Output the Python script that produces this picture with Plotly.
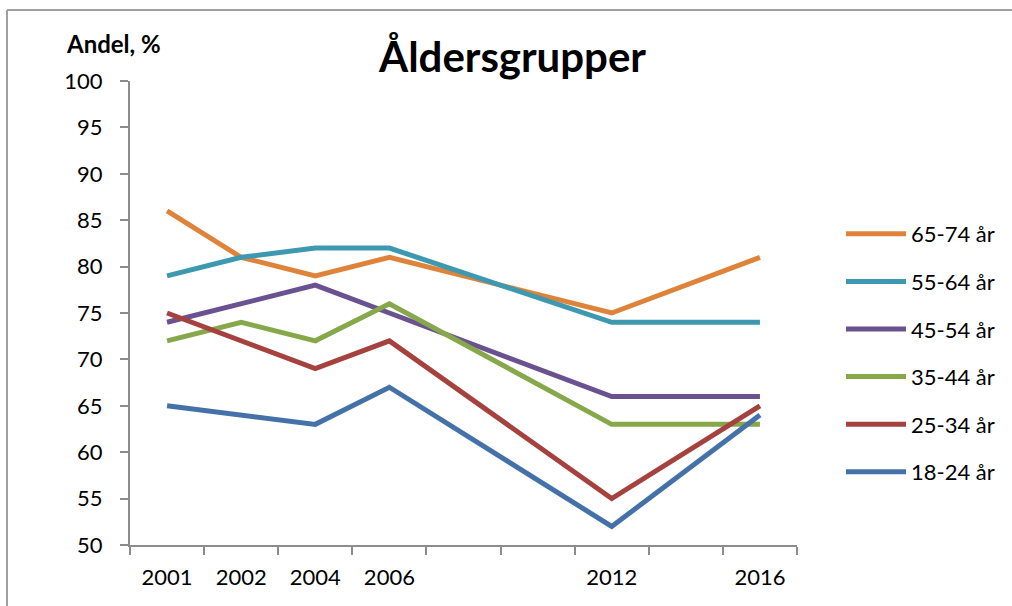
import plotly.graph_objects as go

# Category slots on the x axis (blank slots are gaps between surveyed years)
slot_labels = ["2001", "2002", "2004", "2006", "", "", "2012", "", "2016"]
years = ["2001", "2002", "2004", "2006", "2012", "2016"]

series_names = ["65-74 år", "55-64 år", "45-54 år", "35-44 år", "25-34 år", "18-24 år"]
v_65_74 = [86, 81, 79, 81, 75, 81]
v_55_64 = [79, 81, 82, 82, 74, 74]
v_45_54 = [74, 76, 78, 75, 66, 66]
v_35_44 = [72, 74, 72, 76, 63, 63]
v_25_34 = [75, 72, 69, 72, 55, 65]
v_18_24 = [65, 64, 63, 67, 52, 64]
series_values = [v_65_74, v_55_64, v_45_54, v_35_44, v_25_34, v_18_24]
colors = ["#E0833A", "#3E99B0", "#6A5290", "#87A84A", "#A5423F", "#4571A9"]

y_ticks = list(range(50, 101, 5))

x_pos = [slot_labels.index(y) for y in years]

FONT = "Lato"
W, H = 1012, 606
L, R, T, B = 130, 215, 81, 61

fig = go.Figure()
for i, (name, vals, col) in enumerate(zip(series_names, series_values, colors)):
    fig.add_trace(go.Scatter(
        x=x_pos, y=vals, mode="lines", name=name,
        line=dict(color=col, width=5),
        legendgroup=f"g{i}",
    ))

pw = W - L - R
ph = H - T - B
gray = "#8C8C8C"

fig.update_layout(
    width=W, height=H,
    margin=dict(l=L, r=R, t=T, b=B, autoexpand=False),
    paper_bgcolor="white", plot_bgcolor="white",
    font=dict(family=FONT, size=22, color="#000000"),
    showlegend=True,
    legend=dict(
        x=(841 - L) / pw, xanchor="left",
        y=(H - B - 353) / ph, yanchor="middle",
        font=dict(family=FONT, size=22, color="#000000"),
        tracegroupgap=16, itemwidth=60,
        bgcolor="rgba(0,0,0,0)",
    ),
    xaxis=dict(
        range=[-0.5, len(slot_labels) - 0.5],
        tickmode="array",
        tickvals=x_pos, ticktext=years,
        ticks="", ticklabelstandoff=12,
        showgrid=False, zeroline=False,
        showline=True, linecolor=gray, linewidth=2,
        minor=dict(tick0=-0.5, dtick=1, ticks="outside", ticklen=8,
                   tickcolor=gray, tickwidth=2, showgrid=False),
        tickfont=dict(family=FONT, size=22),
        fixedrange=True,
    ),
    yaxis=dict(
        range=[50, 100],
        tickmode="array", tickvals=y_ticks,
        ticks="outside", ticklen=8, tickcolor=gray, tickwidth=2,
        ticklabelstandoff=13,
        showgrid=False, zeroline=False,
        showline=True, linecolor=gray, linewidth=2,
        tickfont=dict(family=FONT, size=22),
        fixedrange=True,
    ),
    annotations=[
        dict(text="<b>Åldersgrupper</b>", xref="paper", yref="paper",
             x=(512 - L) / pw, y=(H - B - 56) / ph, xanchor="center", yanchor="middle",
             showarrow=False, font=dict(family=FONT, size=42, color="#000000")),
        dict(text="<b>Andel, %</b>", xref="paper", yref="paper",
             x=(64 - L) / pw, y=(H - B - 43) / ph, xanchor="left", yanchor="middle",
             showarrow=False, font=dict(family=FONT, size=24, color="#000000")),
    ],
    shapes=[
        dict(type="line", xref="paper", yref="paper",
             x0=(7 - L) / pw, x1=(7 - L) / pw, y0=(H - B - 10) / ph, y1=(H - B - 606) / ph,
             line=dict(color="#A0A0A0", width=2)),
        dict(type="line", xref="paper", yref="paper",
             x0=(7 - L) / pw, x1=(1012 - L) / pw, y0=(H - B - 10) / ph, y1=(H - B - 10) / ph,
             line=dict(color="#A0A0A0", width=2)),
    ],
)

fig.write_html("out.html", config={"displayModeBar": False})

# remove the browser's default page margin so the figure sits at (0, 0)
with open("out.html", "r", encoding="utf-8") as f:
    html = f.read()
html = html.replace("<body>", '<body style="margin:0;overflow:hidden">', 1)
with open("out.html", "w", encoding="utf-8") as f:
    f.write(html)
